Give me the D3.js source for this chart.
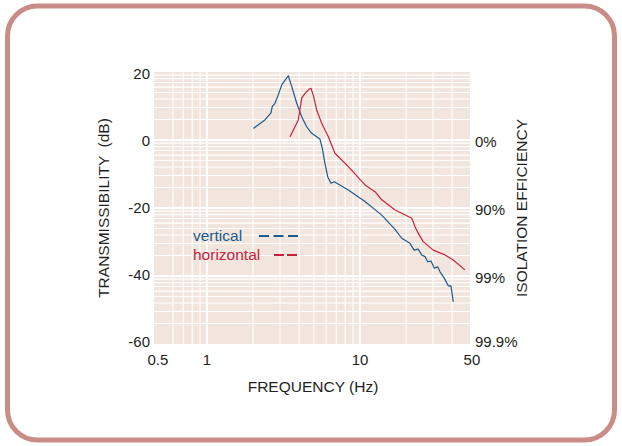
<!DOCTYPE html>
<html>
<head>
<meta charset="utf-8">
<script src="https://cdn.jsdelivr.net/npm/d3@7"></script>
<style>
  html, body { margin: 0; padding: 0; background: #ffffff; }
  svg { display: block; }
  text { font-family: "Liberation Sans", Arial, Helvetica, sans-serif; fill: #231f20; }
</style>
</head>
<body>
<svg id="chart" width="622" height="446"></svg>
<script>
// ---- data ----
const verticalFreq = [2.01, 2.39, 2.62, 2.67, 2.78, 2.92, 3.08, 3.24, 3.40, 3.58, 3.86, 4.16, 4.48, 4.83, 5.21, 5.48, 5.67, 5.90, 6.15, 6.46, 6.79, 8.39, 10.78, 13.87, 16.94, 18.73, 21.2, 22.6, 24.0, 25.3, 26.6, 27.7, 29.1, 30.6, 32.2, 33.3, 35.6, 37.8, 39.3, 40.7];
const verticalDb   = [3.4, 5.9, 8.0, 9.8, 10.8, 13.2, 16.2, 17.6, 18.9, 15.7, 10.8, 6.85, 3.9, 1.97, 0.97, 0.2, -2.4, -6.85, -10.8, -12.7, -12.3, -14.7, -18.1, -22.1, -26.3, -28.9, -30.4, -32.4, -32.1, -33.8, -34.3, -35.8, -35.6, -37.7, -37.3, -38.7, -40.7, -42.9, -42.9, -47.6];
const horizontalFreq = [3.49, 3.95, 4.16, 4.37, 4.64, 4.78, 4.95, 5.21, 5.62, 6.21, 6.86, 8.39, 10.78, 12.53, 13.87, 16.94, 21.8, 22.9, 24.0, 25.9, 30.1, 35.9, 40.7, 48.5];
const horizontalDb   = [0.97, 5.9, 12.3, 13.7, 14.9, 15.2, 13.2, 8.8, 4.9, 0.97, -3.9, -7.85, -13.2, -15.2, -17.6, -20.6, -23.0, -25.5, -27.4, -29.9, -32.4, -33.8, -35.3, -38.2];

const seriesNames = ["vertical", "horizontal"];
const xTickValues = [0.5, 1, 10, 50];
const xTickLabels = ["0.5", "1", "10", "50"];
const yTickValues = [20, 0, -20, -40, -60];
const yTickLabels = ["20", "0", "-20", "-40", "-60"];
const rightTickValues = [0, -20, -40, -60];
const rightTickLabels = ["0%", "90%", "99%", "99.9%"];

// ---- layout ----
const svg = d3.select("#chart");
const plotL = 154, plotR = 470, plotT = 72, plotB = 344;
const blue = "#1b5a8e", red = "#c8213b";

// border
svg.append("rect")
  .attr("x", 7.5).attr("y", 6).attr("width", 607).attr("height", 434)
  .attr("rx", 30).attr("ry", 30)
  .attr("fill", "none").attr("stroke", "#c98c86").attr("stroke-width", 5);

const x = d3.scaleLog().domain([1, 10]).range([207, 360]);
const y = d3.scaleLinear().domain([-60, 20]).range([plotB, plotT]);
const yRatio = d3.scaleLog().domain([0.001, 10]).range([plotB, plotT]);

// background
svg.append("rect")
  .attr("x", plotL).attr("y", plotT).attr("width", plotR - plotL).attr("height", plotB - plotT)
  .attr("fill", "#f2e5de");

const grid = svg.append("g");
// vertical grid
const xGridScale = d3.scaleLog().domain([0.5, 50]);
xGridScale.ticks().filter(v => v > 0.55 && v < 45).forEach(v => {
  const decade = Math.abs(Math.log10(v) - Math.round(Math.log10(v))) < 1e-9;
  grid.append("line")
    .attr("x1", x(v)).attr("x2", x(v)).attr("y1", plotT).attr("y2", plotB)
    .attr("stroke", "#ffffff").attr("stroke-width", decade ? 2 : 1.1);
});
// horizontal grid (log-ratio spacing)
yRatio.ticks().filter(v => v > 0.0011 && v < 9.5).forEach(v => {
  const decade = Math.abs(Math.log10(v) - Math.round(Math.log10(v))) < 1e-9;
  grid.append("line")
    .attr("x1", plotL).attr("x2", plotR).attr("y1", yRatio(v)).attr("y2", yRatio(v))
    .attr("stroke", "#ffffff").attr("stroke-width", decade ? 2 : 1.1);
});

// lines
const line = d3.line().x(d => x(d[0])).y(d => y(d[1]));
svg.append("path")
  .datum(d3.zip(verticalFreq, verticalDb))
  .attr("d", line).attr("fill", "none").attr("stroke", blue).attr("stroke-width", 1.2)
  .attr("stroke-linejoin", "round");
svg.append("path")
  .datum(d3.zip(horizontalFreq, horizontalDb))
  .attr("d", line).attr("fill", "none").attr("stroke", red).attr("stroke-width", 1.2)
  .attr("stroke-linejoin", "round");

// x tick labels
const xNudge = [-3, 0, 0, 5];
xTickValues.forEach((v, i) => {
  svg.append("text")
    .attr("x", x(v) + xNudge[i]).attr("y", plotB + 21)
    .attr("text-anchor", "middle").attr("font-size", 15)
    .text(xTickLabels[i]);
});
// left tick labels
const yNudge = [1.5, 0, -1, -1.5, -3];
yTickValues.forEach((v, i) => {
  svg.append("text")
    .attr("x", plotL - 4).attr("y", y(v) + 5.5 + yNudge[i])
    .attr("text-anchor", "end").attr("font-size", 15)
    .text(yTickLabels[i]);
});
// right tick labels
const rNudge = [1.5, 1, 1, -2.5];
rightTickValues.forEach((v, i) => {
  svg.append("text")
    .attr("x", plotR + 5).attr("y", y(v) + 5.5 + rNudge[i])
    .attr("text-anchor", "start").attr("font-size", 15)
    .text(rightTickLabels[i]);
});

// axis titles
svg.append("text")
  .attr("x", 313).attr("y", 392)
  .attr("text-anchor", "middle").attr("font-size", 15.5)
  .text("FREQUENCY (Hz)");
svg.append("text")
  .attr("transform", "translate(109,208) rotate(-90)")
  .attr("text-anchor", "middle").attr("font-size", 15.5)
  .attr("xml:space", "preserve")
  .text("TRANSMISSIBILITY  (dB)");
svg.append("text")
  .attr("transform", "translate(527,208) rotate(-90)")
  .attr("text-anchor", "middle").attr("font-size", 15.5)
  .text("ISOLATION EFFICIENCY");

// legend
const legend = svg.append("g");
const legendItems = [
  { name: seriesNames[0], color: blue, y: 241, x1: 259, x2: 298, dash: "10,4.5" },
  { name: seriesNames[1], color: red, y: 260, x1: 274, x2: 297, dash: "10,3" }
];
legendItems.forEach(it => {
  legend.append("text")
    .attr("x", 193).attr("y", it.y).attr("font-size", 15.5)
    .style("fill", it.color).text(it.name);
  legend.append("line")
    .attr("x1", it.x1).attr("x2", it.x2).attr("y1", it.y - 5).attr("y2", it.y - 5)
    .attr("stroke", it.color).attr("stroke-width", 2).attr("stroke-dasharray", it.dash);
});
</script>
</body>
</html>
